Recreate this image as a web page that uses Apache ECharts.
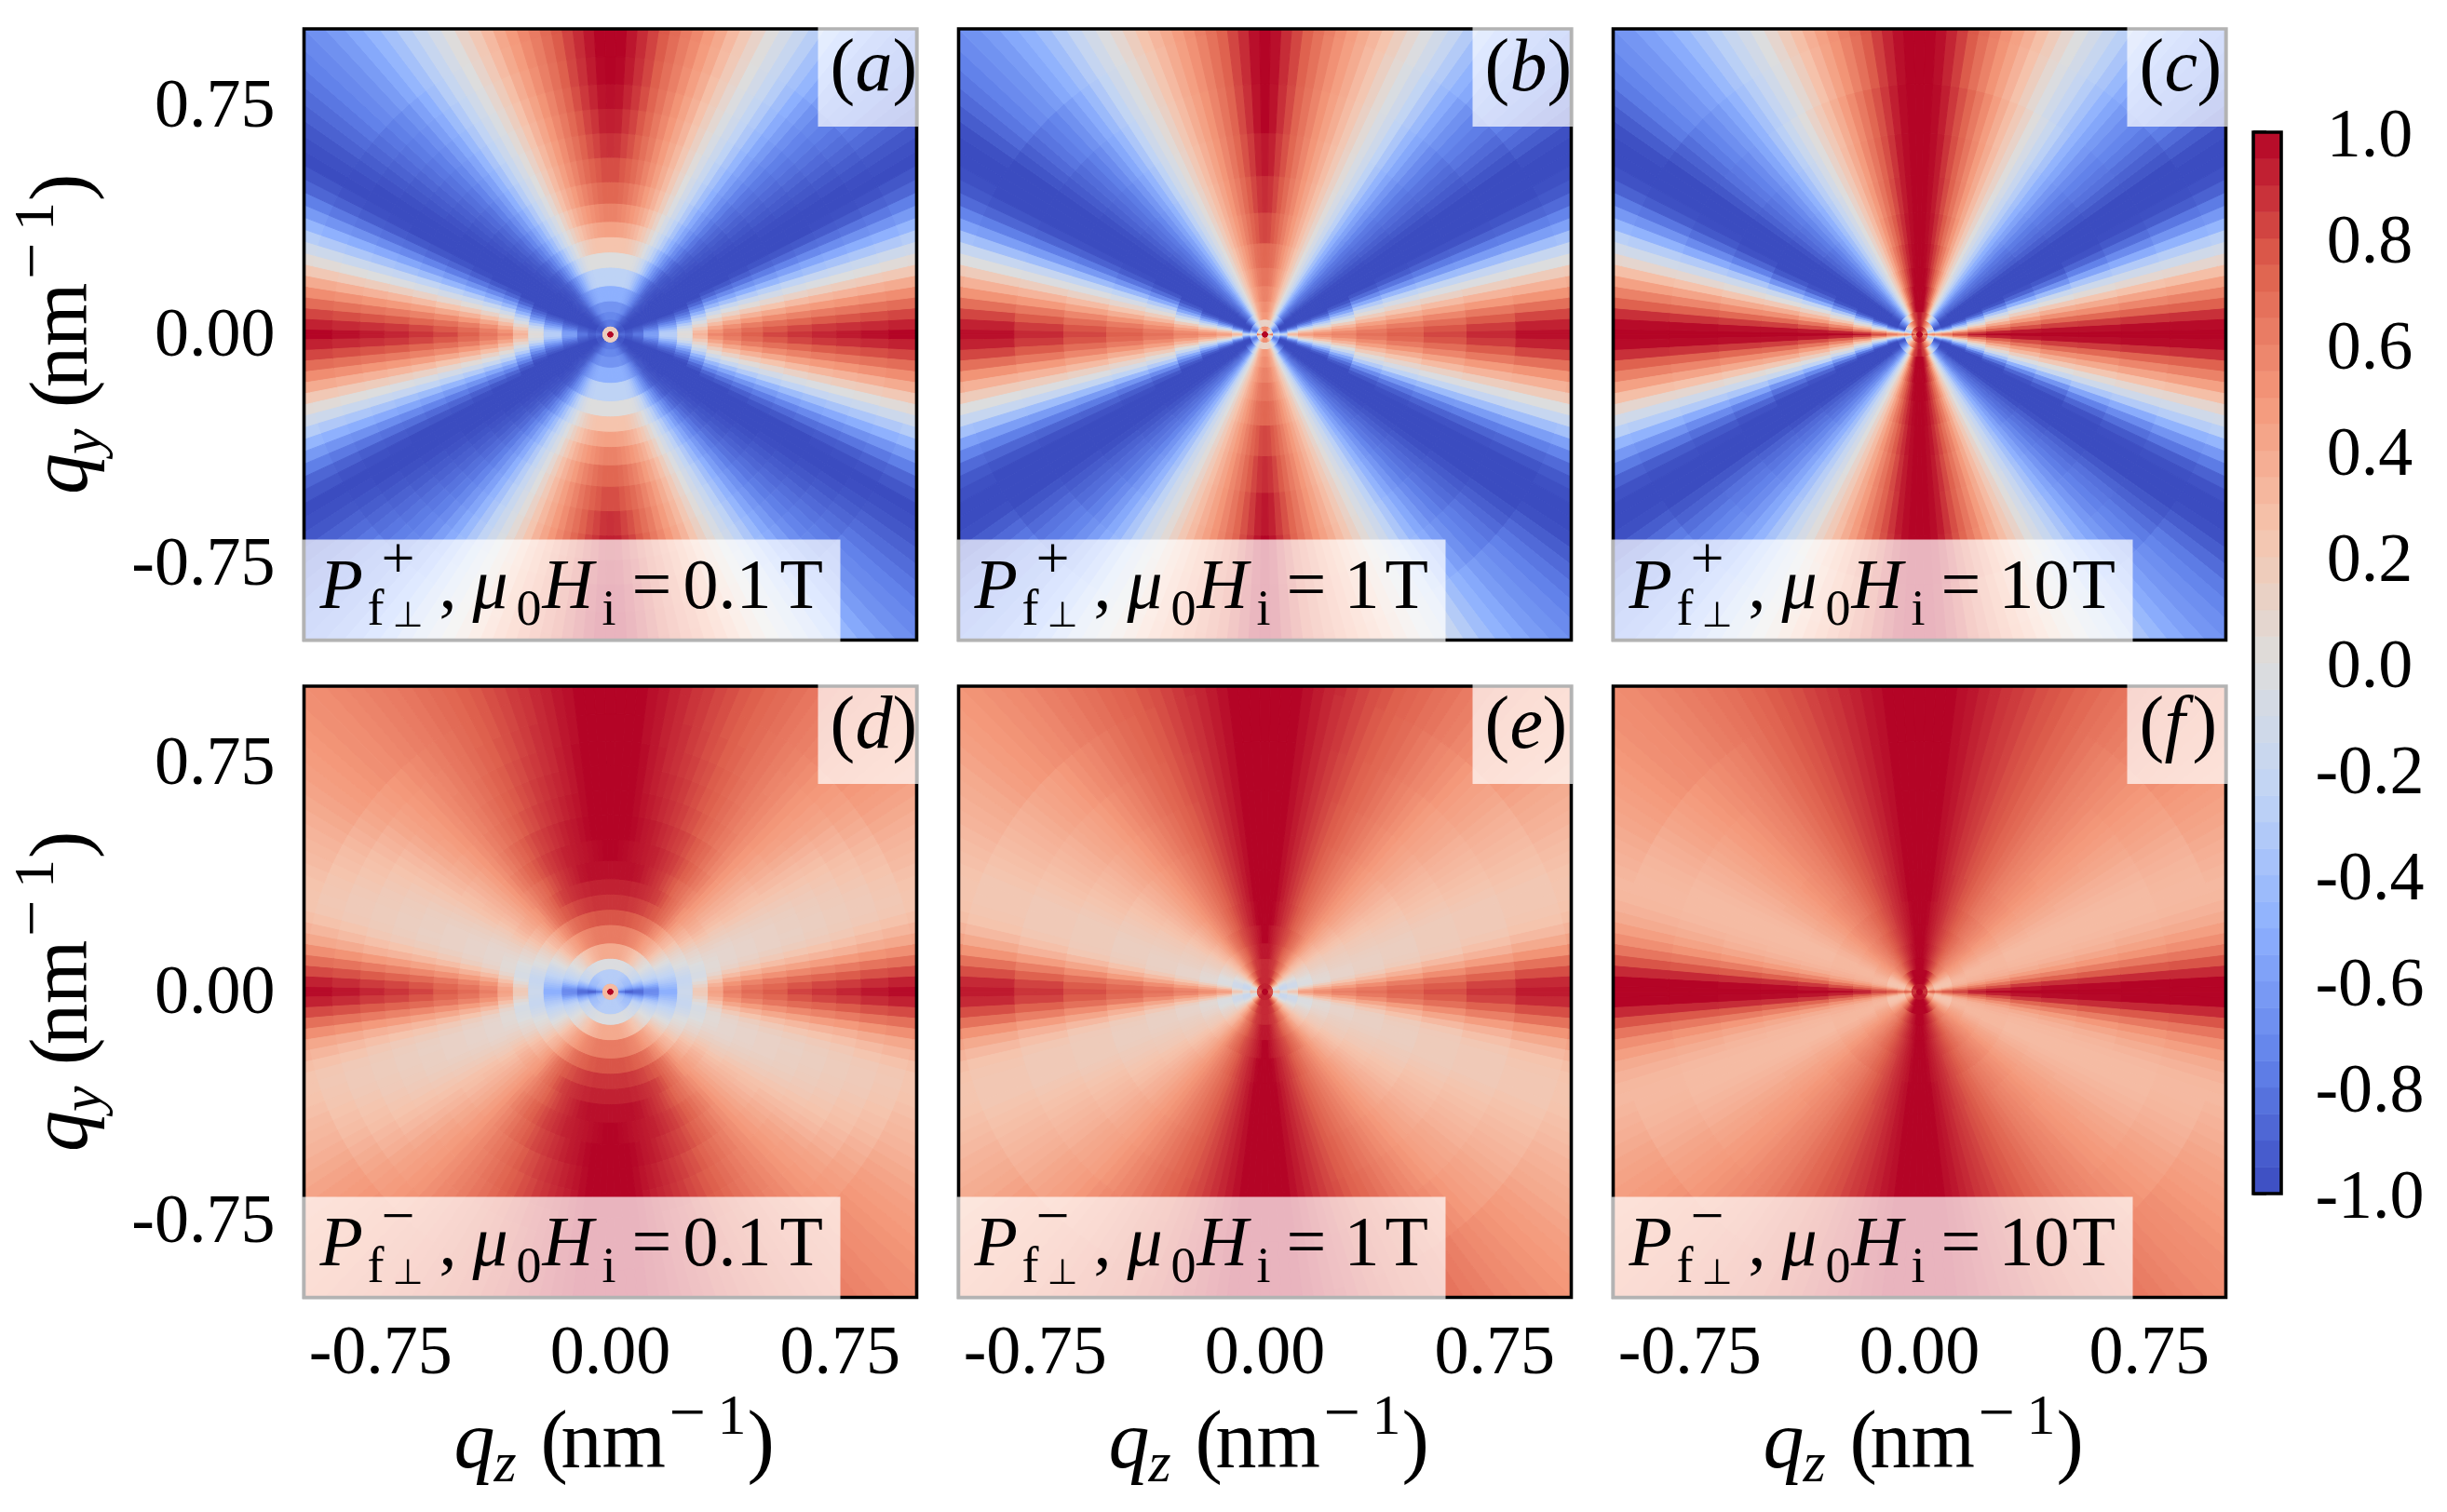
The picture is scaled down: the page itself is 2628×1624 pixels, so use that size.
<!DOCTYPE html>
<html><head><meta charset="utf-8">
<style>html,body{margin:0;padding:0;background:#fff}#c{width:2628px;height:1624px}</style>
<script src="https://cdn.jsdelivr.net/npm/echarts@6/dist/echarts.min.js"></script>
</head><body><div id="c"></div>
<script>
// Values, in percent of the colour scale, one quadrant
// (the picture is mirror-symmetric). Rows = radius bands, columns = ray angle bands (2 degree steps) from the qz axis.
const radiusFine=[0,.012,.028,.05,.075,.11,.16,.22,.27,.32,.37,.43,.5,.58,.66,.74,.82,.91,1,1.45];
const radiusCoarse=[0,.012,.028,.05,.075,.11,.16,.22,.3,.4,.52,.66,.82,1,1.45];
const angleEdges=[0,1,3,5,7,9,11,13,15,17,19,21,23,25,27,29,31,33,35,37,39,41,43,45,47,49,51,53,55,57,59,61,63,65,67,69,71,73,75,77,79,81,83,85,87,89,90];
const tickValues=[-0.75,0,0.75];
const colorbarLevels=[-1,-.95,-.9,-.85,-.8,-.75,-.7,-.65,-.6,-.55,-.5,-.45,-.4,-.35,-.3,-.25,-.2,-.15,-.1,-.05,0,.05,.1,.15,.2,.25,.3,.35,.4,.45,.5,.55,.6,.65,.7,.75,.8,.85,.9,.95,1];
const coolwarm=['#3b4cc0','#6282ea','#8db0fe','#c0d4f5','#dddddd','#f5c4ad','#f4987a','#de604d','#b40426'];

const plus01T=[
[100,100,100,100,100,100,100,100,100,100,100,100,100,100,100,100,100,100,100,100,100,100,100,100,100,100,100,100,100,100,100,100,100,100,100,100,100,100,100,100,100,100,100,100,100,100],
[15,15,15,15,15,15,15,15,15,15,15,15,15,15,15,15,15,15,15,15,15,15,15,15,15,15,15,15,15,15,15,15,15,15,15,15,15,15,15,15,15,15,15,15,15,15],
[-85,-85,-85,-85,-88,-90,-90,-91,-92,-94,-95,-95,-95,-95,-95,-95,-95,-95,-95,-95,-94,-93,-92,-91,-90,-90,-89,-88,-87,-86,-85,-84,-83,-82,-81,-80,-80,-79,-79,-78,-78,-78,-78,-78,-78,-78],
[-90,-90,-90,-92,-92,-95,-95,-96,-97,-99,-100,-100,-100,-100,-100,-100,-100,-99,-98,-97,-96,-95,-94,-93,-92,-90,-89,-88,-85,-83,-81,-79,-78,-76,-75,-75,-74,-73,-72,-72,-72,-72,-72,-72,-72,-72],
[-80,-80,-82,-85,-88,-90,-92,-94,-96,-98,-100,-100,-100,-100,-100,-100,-100,-100,-100,-99,-98,-97,-96,-94,-92,-89,-86,-83,-80,-77,-74,-72,-70,-69,-68,-66,-65,-65,-65,-65,-65,-65,-65,-65,-65,-65],
[-60,-60,-62,-68,-75,-80,-85,-90,-94,-97,-100,-100,-100,-100,-100,-100,-100,-100,-100,-99,-98,-97,-96,-94,-92,-88,-84,-79,-75,-70,-66,-62,-58,-56,-54,-52,-51,-50,-50,-50,-50,-50,-50,-50,-50,-50],
[-30,-30,-35,-45,-55,-65,-75,-84,-90,-95,-100,-100,-100,-100,-100,-100,-100,-100,-100,-100,-99,-98,-97,-95,-93,-90,-85,-79,-72,-66,-58,-52,-45,-39,-34,-30,-28,-27,-26,-26,-26,-26,-26,-26,-26,-26],
[3,1,-6,-18,-32,-46,-60,-72,-82,-90,-97,-100,-100,-100,-100,-100,-100,-100,-100,-99,-98,-97,-96,-94,-91,-86,-79,-72,-64,-55,-46,-37,-29,-20,-13,-7,-3,-1,0,0,0,0,0,0,0,0],
[35,30,20,8,-5,-18,-32,-48,-62,-75,-87,-95,-100,-100,-100,-100,-100,-100,-100,-99,-98,-96,-94,-91,-87,-81,-74,-66,-57,-48,-38,-29,-20,-11,-3,5,10,15,19,22,24,25,25,25,25,25],
[58,52,42,30,16,3,-12,-28,-45,-60,-75,-88,-96,-100,-100,-100,-100,-100,-100,-99,-97,-95,-92,-88,-83,-76,-69,-60,-50,-41,-31,-22,-12,-3,6,14,21,26,31,35,38,41,43,44,45,45],
[66,62,54,42,28,12,-3,-20,-38,-55,-70,-84,-94,-100,-100,-100,-100,-100,-100,-98,-96,-94,-90,-86,-80,-73,-65,-56,-47,-37,-27,-17,-8,2,12,21,29,36,41,46,50,53,56,58,60,60],
[75,70,62,50,36,20,3,-14,-32,-50,-66,-80,-91,-98,-100,-100,-100,-100,-99,-97,-95,-92,-88,-84,-78,-70,-62,-53,-43,-33,-23,-13,-3,7,17,27,35,42,48,54,59,63,67,70,72,72],
[82,77,68,56,41,25,8,-10,-28,-46,-62,-77,-88,-96,-100,-100,-100,-100,-98,-96,-93,-90,-86,-82,-76,-68,-60,-50,-40,-30,-20,-10,0,10,20,30,38,46,53,59,65,70,74,77,80,80],
[87,82,72,60,46,30,12,-6,-24,-42,-58,-74,-86,-95,-100,-100,-100,-99,-97,-94,-91,-88,-84,-80,-74,-66,-58,-48,-38,-28,-18,-8,2,12,22,32,40,48,55,62,68,74,79,83,87,88],
[91,86,76,63,49,33,15,-3,-21,-39,-55,-71,-84,-94,-100,-100,-100,-99,-96,-93,-90,-86,-82,-78,-72,-64,-56,-46,-36,-26,-16,-6,4,14,24,34,42,50,57,64,71,77,83,87,92,93],
[94,88,78,65,51,35,17,-1,-19,-37,-53,-69,-83,-93,-99,-100,-100,-98,-95,-92,-88,-84,-80,-76,-70,-62,-54,-44,-34,-24,-14,-4,6,16,26,36,44,52,59,66,73,80,86,91,96,97],
[97,90,80,67,53,37,19,1,-17,-35,-51,-67,-81,-92,-98,-100,-100,-97,-94,-90,-86,-82,-78,-74,-68,-60,-52,-42,-32,-22,-12,-2,8,18,28,38,46,54,61,68,75,82,88,94,99,100],
[100,92,82,69,55,39,21,3,-15,-33,-49,-65,-79,-90,-97,-100,-99,-96,-92,-88,-84,-80,-76,-72,-66,-58,-50,-40,-30,-20,-10,0,10,20,30,40,48,56,62,69,76,83,89,95,100,100],
[100,94,83,70,56,40,22,4,-13,-30,-46,-62,-76,-88,-95,-100,-98,-95,-90,-85,-80,-75,-71,-67,-61,-54,-46,-38,-29,-19,-9,1,11,21,31,41,49,57,63,70,77,84,90,95,100,100]];

const plus1T=[
[100,100,100,100,100,100,100,100,100,100,100,100,100,100,100,100,100,100,100,100,100,100,100,100,100,100,100,100,100,100,100,100,100,100,100,100,100,100,100,100,100,100,100,100,100,100],
[85,82,75,68,60,48,35,27,20,12,5,0,-5,-8,-10,-10,-10,-8,-7,-5,-2,2,5,10,15,18,22,25,28,31,34,37,40,43,46,48,50,52,53,55,55,55,55,55,55,55],
[-5,-8,-15,-22,-32,-42,-50,-56,-62,-68,-72,-75,-75,-74,-72,-70,-65,-62,-60,-55,-50,-46,-40,-36,-30,-26,-20,-16,-10,-7,-3,1,4,7,10,11,12,12,12,12,12,12,12,12,12,12],
[-15,-20,-30,-45,-60,-72,-82,-88,-93,-97,-100,-100,-100,-100,-100,-98,-95,-92,-88,-84,-78,-73,-68,-62,-55,-48,-40,-33,-25,-18,-10,-3,4,10,18,24,30,34,37,40,44,46,48,50,50,50],
[35,28,15,-5,-25,-45,-65,-78,-88,-95,-98,-100,-100,-100,-100,-100,-100,-99,-97,-94,-90,-86,-82,-78,-72,-65,-57,-48,-38,-27,-16,-8,0,8,15,21,28,35,39,42,46,49,52,53,54,55],
[48,42,30,15,-5,-25,-45,-63,-78,-90,-97,-100,-100,-100,-100,-100,-100,-100,-99,-96,-92,-88,-84,-80,-74,-66,-58,-49,-39,-28,-17,-9,0,9,16,23,30,37,42,46,50,54,56,58,60,60],
[56,50,38,24,5,-15,-32,-52,-70,-85,-95,-100,-100,-100,-100,-100,-100,-100,-99,-96,-92,-88,-84,-80,-74,-66,-58,-49,-39,-28,-17,-8,0,9,17,24,31,38,44,49,54,58,62,64,66,66],
[60,56,46,34,18,0,-18,-36,-55,-72,-85,-95,-100,-100,-100,-100,-100,-100,-99,-96,-92,-88,-84,-80,-74,-66,-58,-49,-39,-28,-17,-8,0,9,18,25,33,40,46,52,57,62,67,69,71,72],
[68,64,56,46,32,18,3,-13,-32,-52,-70,-85,-95,-100,-100,-100,-100,-100,-99,-96,-92,-88,-84,-80,-74,-66,-58,-49,-39,-28,-17,-8,1,10,19,27,35,42,49,55,61,67,73,77,81,82],
[75,71,63,52,38,24,9,-7,-26,-45,-65,-81,-92,-98,-100,-100,-100,-100,-98,-95,-91,-87,-83,-79,-73,-65,-57,-48,-38,-27,-16,-7,2,11,20,28,36,43,50,57,63,70,76,82,87,89],
[82,78,69,58,44,30,13,-3,-22,-42,-62,-78,-90,-97,-100,-100,-100,-100,-98,-94,-90,-86,-82,-78,-72,-64,-56,-47,-37,-26,-15,-6,3,12,21,29,37,44,51,58,65,72,79,85,92,95],
[90,85,76,64,49,34,16,-2,-21,-41,-61,-77,-89,-97,-100,-100,-100,-100,-97,-93,-89,-85,-81,-76,-70,-62,-54,-45,-35,-25,-14,-5,4,13,22,30,38,45,52,59,66,73,81,88,96,100],
[97,92,82,68,52,36,18,-1,-20,-40,-60,-76,-88,-96,-100,-100,-100,-100,-96,-91,-86,-81,-77,-73,-67,-60,-52,-43,-33,-23,-13,-4,5,14,23,31,39,46,53,60,67,74,82,89,97,100],
[100,94,84,70,54,38,20,0,-19,-38,-58,-74,-86,-94,-98,-100,-100,-98,-92,-86,-80,-75,-70,-66,-61,-54,-48,-40,-31,-21,-11,-2,7,16,25,33,40,47,54,61,68,75,83,90,98,100]];

const plus10T=[
[100,100,100,100,100,100,100,100,100,100,100,100,100,100,100,100,100,100,100,100,100,100,100,100,100,100,100,100,100,100,100,100,100,100,100,100,100,100,100,100,100,100,100,100,100,100],
[90,90,88,85,80,75,70,63,58,55,55,55,58,60,62,64,66,68,70,71,72,74,75,76,78,80,81,82,84,85,86,87,88,89,90,90,90,91,92,92,93,95,95,95,95,95],
[68,60,50,40,25,10,-10,-22,-30,-35,-28,-20,-15,-10,-5,2,5,8,12,15,20,25,30,33,37,42,45,48,52,55,58,62,65,68,71,74,77,80,82,84,85,88,89,90,92,92],
[58,52,42,25,5,-20,-42,-62,-78,-90,-95,-95,-93,-90,-86,-82,-78,-74,-70,-64,-58,-52,-46,-40,-33,-27,-20,-13,-5,3,12,22,32,44,55,66,74,80,83,85,86,87,90,93,95,95],
[70,60,45,20,-5,-30,-55,-72,-85,-95,-100,-100,-100,-100,-100,-100,-99,-97,-95,-91,-86,-82,-78,-72,-65,-58,-50,-40,-30,-20,-8,2,12,26,40,52,64,74,82,88,92,97,100,100,100,100],
[85,75,55,30,5,-15,-35,-55,-72,-88,-98,-100,-100,-100,-100,-100,-100,-100,-98,-92,-88,-84,-80,-74,-67,-58,-50,-40,-30,-20,-8,2,12,24,36,48,60,70,78,84,90,96,100,100,100,100],
[98,85,65,45,25,5,-15,-33,-55,-78,-92,-100,-100,-100,-100,-100,-100,-100,-98,-92,-88,-84,-80,-74,-67,-58,-50,-40,-30,-20,-8,2,12,22,33,45,56,66,74,81,87,93,98,100,100,100],
[100,92,75,58,40,22,5,-14,-36,-62,-82,-96,-100,-100,-100,-100,-100,-100,-98,-92,-88,-84,-80,-74,-67,-58,-50,-40,-30,-20,-10,0,10,20,31,42,53,63,71,79,85,91,96,99,100,100],
[100,95,80,65,48,32,15,-3,-25,-50,-72,-88,-97,-100,-100,-100,-100,-100,-98,-92,-88,-84,-80,-74,-67,-58,-50,-40,-30,-20,-10,0,10,20,30,41,51,60,68,76,83,89,95,98,100,100],
[100,97,84,70,54,38,21,1,-18,-42,-65,-83,-94,-100,-100,-100,-100,-100,-97,-91,-86,-82,-78,-72,-65,-57,-49,-39,-30,-20,-10,0,10,20,30,40,49,58,66,74,81,88,94,98,100,100],
[100,97,85,71,55,40,23,4,-15,-35,-56,-75,-88,-97,-100,-100,-100,-100,-96,-90,-85,-81,-77,-71,-64,-56,-48,-38,-29,-19,-9,1,11,20,30,39,48,57,65,73,80,87,94,98,100,100],
[100,98,87,73,58,43,26,7,-13,-32,-52,-70,-84,-94,-99,-100,-100,-100,-95,-89,-83,-79,-75,-70,-63,-55,-47,-37,-28,-18,-8,1,11,20,29,38,47,56,64,72,79,86,93,98,100,100],
[100,98,88,74,60,45,28,8,-12,-30,-48,-65,-80,-92,-98,-100,-100,-100,-95,-90,-84,-78,-73,-68,-62,-55,-47,-38,-30,-21,-12,-3,6,16,26,35,44,52,60,68,76,84,91,97,100,100],
[100,98,88,74,60,45,28,9,-10,-28,-46,-63,-78,-90,-97,-100,-100,-98,-92,-85,-78,-73,-68,-64,-58,-52,-44,-36,-28,-19,-10,-1,8,18,28,37,45,53,61,69,77,85,92,98,100,100]];

const minus01T=[
[100,100,100,100,100,100,100,100,100,100,100,100,100,100,100,100,100,100,100,100,100,100,100,100,100,100,100,100,100,100,100,100,100,100,100,100,100,100,100,100,100,100,100,100,100,100],
[30,30,30,30,30,30,30,30,30,30,30,30,30,30,30,30,30,30,30,30,30,30,30,30,30,30,30,30,30,30,30,30,30,30,30,30,30,30,30,30,30,30,30,30,30,30],
[-80,-80,-78,-72,-66,-60,-56,-52,-49,-46,-43,-41,-39,-38,-37,-36,-36,-35,-35,-34,-34,-34,-33,-33,-33,-32,-32,-32,-31,-31,-30,-30,-30,-30,-30,-30,-30,-30,-30,-30,-30,-30,-30,-30,-30,-30],
[-92,-90,-86,-80,-72,-65,-60,-56,-52,-49,-46,-44,-42,-41,-40,-40,-39,-39,-38,-38,-37,-36,-36,-35,-34,-33,-32,-32,-31,-31,-30,-30,-30,-30,-30,-30,-30,-30,-30,-30,-30,-30,-30,-30,-30,-30],
[-85,-84,-82,-76,-68,-60,-54,-48,-43,-38,-33,-29,-26,-24,-22,-20,-18,-16,-15,-14,-13,-12,-10,-9,-8,-7,-6,-5,-5,-4,-4,-3,-3,-2,-2,-2,-2,-2,-2,-2,-2,-2,-2,-2,-2,-2],
[-70,-70,-68,-62,-55,-48,-40,-35,-31,-27,-24,-21,-18,-15,-12,-9,-6,-3,0,2,4,6,8,11,14,17,20,22,24,26,28,30,32,33,35,36,37,38,39,39,40,40,40,40,40,40],
[-50,-50,-46,-42,-38,-34,-31,-28,-25,-21,-18,-14,-10,-6,-2,2,6,10,14,18,23,27,31,34,37,40,43,45,47,50,52,54,56,57,58,59,60,61,62,62,63,63,63,63,63,63],
[-15,-15,-16,-18,-19,-19,-17,-14,-11,-7,-3,-1,2,4,7,10,13,17,21,25,30,33,36,40,44,49,53,56,59,63,66,68,70,71,73,74,75,76,77,77,78,78,78,78,78,78],
[20,18,12,5,-2,-6,-6,-4,-3,-1,3,5,8,10,14,18,22,26,30,33,36,40,44,48,53,58,63,67,70,73,76,77,79,80,82,83,84,85,86,86,87,87,87,87,87,87],
[45,42,36,27,17,9,5,4,4,5,7,9,12,14,18,22,26,30,34,37,40,43,46,49,52,58,63,67,70,74,78,81,84,85,87,88,89,90,91,91,92,92,92,92,92,92],
[62,58,52,42,30,20,12,9,8,8,8,9,11,14,17,20,24,28,31,35,38,42,46,50,54,58,62,66,69,72,76,79,82,85,87,89,91,93,95,96,97,97,97,97,97,97],
[70,66,59,48,36,25,16,12,10,10,10,11,13,15,18,22,26,29,32,35,38,42,46,50,55,60,64,68,72,75,78,81,84,86,88,90,92,93,94,95,96,97,98,99,100,100],
[76,72,65,53,41,29,20,15,12,12,12,12,14,16,19,22,26,28,31,35,38,42,46,50,54,58,62,66,70,73,76,79,82,84,86,88,90,92,94,95,97,99,100,100,100,100],
[83,78,70,57,44,32,23,17,14,13,14,14,15,17,20,23,26,30,33,37,40,43,47,50,54,57,61,64,67,70,73,76,79,81,84,86,88,90,92,94,96,98,100,100,100,100],
[87,82,73,60,47,34,25,19,16,15,15,16,17,19,21,24,27,30,34,38,42,45,48,51,54,57,60,63,66,69,72,75,77,80,82,85,87,89,91,93,95,98,100,100,100,100],
[91,85,76,63,49,36,27,21,18,17,17,18,19,21,23,25,28,31,35,39,43,46,48,51,54,57,60,62,65,68,71,74,76,79,81,84,86,88,90,93,95,98,100,100,100,100],
[95,89,79,66,52,39,30,24,20,19,19,20,22,24,26,28,31,34,37,41,44,46,49,51,54,57,59,62,65,67,70,73,75,78,80,83,85,88,90,92,95,97,100,100,100,100],
[98,92,81,68,54,41,33,26,22,21,22,23,25,27,29,32,35,38,41,44,46,48,50,52,55,57,60,62,65,67,70,72,75,77,80,82,85,87,90,92,95,97,100,100,100,100],
[100,94,83,70,56,43,35,28,24,24,25,27,30,32,34,37,40,43,46,48,50,52,54,55,57,59,61,63,65,68,70,72,75,77,80,82,85,87,90,92,95,97,100,100,100,100]];

const minus1T=[
[100,100,100,100,100,100,100,100,100,100,100,100,100,100,100,100,100,100,100,100,100,100,100,100,100,100,100,100,100,100,100,100,100,100,100,100,100,100,100,100,100,100,100,100,100,100],
[88,88,86,84,82,80,80,80,80,80,80,80,81,82,83,84,85,85,86,87,88,88,89,90,90,90,91,92,92,92,92,92,92,92,92,92,92,92,92,92,92,92,92,92,92,92],
[30,28,25,20,14,8,2,-3,-6,-8,-6,-4,0,5,10,16,22,28,34,40,45,48,52,58,63,68,72,75,78,80,82,85,86,88,89,90,90,90,90,90,90,90,90,90,90,90],
[8,5,0,-6,-12,-16,-18,-18,-18,-16,-13,-11,-8,-3,1,6,10,16,22,28,33,38,42,47,52,56,60,64,68,71,73,76,78,82,84,85,86,87,88,88,89,90,90,90,90,90],
[25,20,12,4,-5,-10,-12,-12,-12,-10,-8,-5,-2,1,4,8,11,15,19,24,28,32,36,40,45,49,53,58,62,65,68,71,74,77,80,82,84,86,86,87,88,88,90,90,90,90],
[50,44,35,22,10,2,-2,-2,-2,-1,1,3,6,8,10,12,14,17,20,24,27,30,33,37,42,46,50,54,58,62,65,68,71,74,77,80,82,84,86,88,90,92,94,95,95,95],
[57,52,42,30,18,8,5,5,6,7,9,10,12,14,16,17,19,21,24,27,30,33,36,40,44,48,52,56,60,64,67,70,73,76,79,81,83,85,87,89,91,93,95,97,100,100],
[62,58,48,36,24,14,10,10,10,11,13,14,15,16,18,19,21,24,26,29,32,35,38,41,45,48,52,55,58,61,64,68,71,74,77,80,83,86,88,91,93,96,99,100,100,100],
[68,64,55,42,30,20,14,13,13,13,14,15,17,18,20,21,24,26,28,31,34,37,40,43,46,49,52,55,58,61,64,67,70,73,76,79,82,85,88,91,94,97,100,100,100,100],
[74,70,62,48,36,26,18,16,15,15,15,16,18,19,21,23,25,27,29,32,35,37,40,43,46,49,52,55,58,61,64,67,70,73,76,79,82,85,88,91,94,97,100,100,100,100],
[80,76,68,55,42,31,22,19,18,18,18,18,20,22,24,26,28,30,32,34,37,39,42,44,47,50,53,56,59,62,65,68,71,74,76,79,82,85,88,91,94,97,100,100,100,100],
[87,83,74,61,47,35,27,22,20,20,20,20,22,24,26,28,30,32,34,36,39,41,43,45,48,51,54,57,60,63,66,69,72,74,77,80,82,85,88,91,94,97,100,100,100,100],
[94,90,80,67,52,40,31,25,23,22,22,22,24,26,28,30,32,34,36,38,41,43,45,47,50,53,56,58,61,64,67,70,72,75,77,80,83,86,88,91,94,97,100,100,100,100],
[100,93,83,70,55,43,34,28,25,24,24,25,27,29,31,34,36,38,40,43,46,48,50,52,54,56,58,61,63,66,68,71,73,75,78,80,83,86,89,91,94,97,100,100,100,100]];

const minus10T=[
[100,100,100,100,100,100,100,100,100,100,100,100,100,100,100,100,100,100,100,100,100,100,100,100,100,100,100,100,100,100,100,100,100,100,100,100,100,100,100,100,100,100,100,100,100,100],
[90,90,90,90,88,88,86,85,85,85,85,85,86,87,88,89,90,90,91,92,93,94,94,95,95,95,96,96,96,96,96,96,96,96,96,96,96,96,96,96,96,96,96,96,96,96],
[78,76,72,66,58,50,44,40,37,36,36,38,40,42,44,47,50,53,56,60,64,67,71,75,79,82,85,88,90,92,95,96,97,98,99,100,100,100,100,100,100,100,100,100,100,100],
[75,70,60,48,38,30,26,25,24,24,25,26,28,30,33,36,40,43,47,50,54,57,61,65,69,72,75,78,82,85,87,90,92,94,96,98,100,100,100,100,100,100,100,100,100,100],
[80,76,66,54,42,32,26,25,24,24,25,26,27,29,32,35,39,42,45,48,51,54,57,60,62,64,66,68,71,74,77,79,81,83,85,87,89,91,93,95,96,98,100,100,100,100],
[85,80,70,58,46,38,34,33,32,32,33,34,36,38,40,42,44,46,48,50,52,54,56,58,60,62,64,67,69,72,75,77,79,81,83,85,87,89,91,93,95,97,98,100,100,100],
[95,88,75,62,50,42,36,34,33,32,32,32,33,35,37,39,42,44,47,49,52,54,56,58,60,62,64,67,69,71,74,76,78,80,82,84,86,88,90,92,94,96,98,100,100,100],
[100,92,80,66,53,43,37,35,33,32,32,32,32,34,35,38,41,43,45,48,50,53,55,57,59,61,63,65,67,70,72,75,77,79,81,83,86,88,90,92,94,96,99,100,100,100],
[100,96,86,72,58,46,38,34,32,31,30,30,30,32,34,36,39,41,43,46,48,51,53,55,57,59,61,63,65,68,71,73,76,78,81,83,85,88,90,92,95,97,100,100,100,100],
[100,98,88,74,60,48,40,35,32,31,30,30,30,31,33,35,38,40,43,45,47,50,52,54,56,58,60,62,65,68,71,73,76,78,80,83,85,87,90,92,95,97,100,100,100,100],
[100,99,89,76,62,50,42,36,33,31,30,30,30,31,33,35,37,40,42,45,47,49,51,53,56,58,60,62,65,68,71,73,76,78,80,83,85,87,90,92,95,97,100,100,100,100],
[100,100,90,77,64,52,44,38,34,31,30,30,30,31,33,35,37,40,42,44,47,49,51,53,56,58,60,62,65,68,71,73,76,78,80,83,85,87,90,92,95,97,100,100,100,100],
[100,100,90,78,65,54,46,39,35,32,31,31,32,33,35,37,39,42,44,46,48,50,52,54,56,58,60,62,65,68,71,73,76,78,80,83,85,87,90,92,95,97,100,100,100,100],
[100,100,90,78,65,54,46,39,35,32,31,33,35,37,39,42,44,46,48,50,52,54,55,56,58,60,62,64,66,68,71,73,76,78,80,83,85,87,90,92,95,97,100,100,100,100]];

const panelValues=[plus01T,plus1T,plus10T,minus01T,minus1T,minus10T];
const panelRadii=[radiusFine,radiusCoarse,radiusCoarse,radiusFine,radiusCoarse,radiusCoarse];
const panelLetters=['a','b','c','d','e','f'];
const fieldTexts=['0.1','1','10'];

// layout
const SERIF='"Liberation Serif"';
const colLeft=[326.5,1029.5,1732.5], rowTop=[31,737], W=658, H=656.5;
const TICKFONT=74, TITLEFONT=88;

const wedge=radii=>function(params,api){
  const ri=api.value(0),ai=api.value(1),c=api.visual('color');
  const r0=radii[ri],r1=radii[ri+1];
  const t0=angleEdges[ai]*Math.PI/180,t1=angleEdges[ai+1]*Math.PI/180;
  const kids=[];
  for(const sx of [1,-1]) for(const sy of [1,-1]){
    const pts=[];
    for(let k=0;k<=1;k++){const t=t0+(t1-t0)*k;pts.push(api.coord([sx*r0*Math.cos(t),sy*r0*Math.sin(t)]));}
    for(let k=1;k>=0;k--){const t=t0+(t1-t0)*k;pts.push(api.coord([sx*r1*Math.cos(t),sy*r1*Math.sin(t)]));}
    kids.push({type:'polygon',shape:{points:pts},style:{fill:c,stroke:c,lineWidth:1}});
  }
  return {type:'group',children:kids};
};
function barCell(params,api){
  const a=api.coord([0,api.value(0)]),b=api.coord([1,api.value(1)]);
  const c=api.visual('color');
  return {type:'rect',shape:{x:a[0],y:b[1],width:b[0]-a[0],height:a[1]-b[1]},style:{fill:c,stroke:c,lineWidth:.6}};
}

const grids=[],xAxes=[],yAxes=[],series=[],gfx=[];
function run(text,x,base,size,italic,family,z){
  return {type:'text',z:z||70,style:{text:text,x:x,y:base-.3375*size,
    font:(italic?'italic ':'')+size+'px '+(family||SERIF),fill:'#000',textAlign:'left',textVerticalAlign:'middle'}};
}
function titleRuns(subLetter){
  return [run('q',0,0,TITLEFONT,true),run(subLetter,43,13,62,true),run('(',93,0,TITLEFONT),run('nm',115,0,TITLEFONT),
    run('\u2212',231,-38,70),run('1',283,-38,62),run(')',315,0,TITLEFONT)];
}
panelValues.forEach((rows,p)=>{
  const col=p%3,row=p<3?0:1,L=colLeft[col],T=rowTop[row],R=L+W,B=T+H;
  grids.push({left:L,top:T,width:W,height:H,show:false});
  xAxes.push({type:'value',gridIndex:p,min:-1,max:1,show:row===1,splitLine:{show:false},axisLine:{show:false},
    axisTick:{show:true,length:13,lineStyle:{color:'#000',width:3.5},customValues:tickValues},
    axisLabel:{show:true,margin:25,fontSize:TICKFONT,fontFamily:SERIF,color:'#000',customValues:tickValues,formatter:v=>v.toFixed(2)}});
  yAxes.push({type:'value',gridIndex:p,min:-1,max:1,show:col===0,splitLine:{show:false},axisLine:{show:false},
    axisTick:{show:true,length:13,lineStyle:{color:'#000',width:3.5},customValues:tickValues},
    axisLabel:{show:true,margin:31,color:'#000',customValues:tickValues,formatter:v=>'{v|'+v.toFixed(2)+'}',
      rich:{v:{fontSize:TICKFONT,fontFamily:SERIF,color:'#000',padding:[7,0,0,0]}}}});
  const data=[];
  const radii=panelRadii[p];
  rows.forEach((vals,ri)=>{
    for(let ai=0;ai<angleEdges.length-1;ai++){
      const v=ai<vals.length?vals[ai]:vals[vals.length-1];
      data.push([ri,ai,v/100]);
    }
  });
  series.push({type:'custom',xAxisIndex:p,yAxisIndex:p,coordinateSystem:'cartesian2d',renderItem:wedge(radii),data:data,
    clip:true,silent:true,progressive:0,encode:{x:0,y:1},dimensions:['r','a','v']});

  // frame
  gfx.push({type:'rect',z:50,shape:{x:L,y:T,width:W,height:H},style:{fill:'none',stroke:'#000',lineWidth:3.6}});
  // letter box
  const boxW=106;
  gfx.push({type:'rect',z:60,shape:{x:R-boxW,y:T-2,width:boxW+2,height:107},style:{fill:'rgba(255,255,255,.7)'}});
  const letter=panelLetters[p],fs=80,lw={a:40,b:40,c:35,d:40,e:35,f:30}[letter],lx=R-boxW+13,ly=T+72;
  gfx.push(run('(',lx,ly,fs),run(letter,lx+27,ly,fs,true),run(')',lx+27+lw,ly,fs));
  // caption box
  const capW=[576,523,558][col];
  gfx.push({type:'rect',z:60,shape:{x:L-2,y:B-108,width:capW+2,height:110},style:{fill:'rgba(255,255,255,.7)'}});
  const base=B-29;
  const tx={value:[407,414,414][col],t:[511,458,493][col]};
  gfx.push(run('P',L+17,base,76,true),run(row===0?'+':'\u2212',L+83,base-33,64),
    run('f',L+68,base+17,54),run('\u22a5',L+95,base+17,38,false,'"DejaVu Sans"'),
    run(',',L+145,base,76),run('\u03bc',L+181,base,76,true),run('0',L+228,base+17,54),
    run('H',L+256,base,76,true),run('i',L+320,base+17,54),run('=',L+352,base,76),
    run(fieldTexts[col],L+tx.value,base,76),run('T',L+tx.t,base,76));
  // axis titles
  if(row===1) gfx.push({type:'group',x:L+W/2-168,y:1583,children:titleRuns('z')});
  if(col===0) gfx.push({type:'group',x:100,y:T+500,rotation:Math.PI/2,children:titleRuns('y')});
});

// colour bar
const cb=panelValues.length;
grids.push({left:2420,top:142,width:30,height:1140,show:false});
xAxes.push({type:'value',gridIndex:cb,min:0,max:1,show:false});
yAxes.push({type:'value',gridIndex:cb,min:-1,max:1,interval:.2,position:'right',splitLine:{show:false},axisLine:{show:false},
  axisTick:{show:true,length:14,lineStyle:{color:'#000',width:3.5}},
  axisLabel:{margin:95,align:'center',color:'#000',formatter:v=>'{v|'+v.toFixed(1)+'}',showMinLabel:true,showMaxLabel:true,
    rich:{v:{fontSize:TICKFONT,fontFamily:SERIF,color:'#000',padding:[14,0,0,0]}}}});
const cbData=[];
for(let i=0;i+1<colorbarLevels.length;i++) cbData.push([colorbarLevels[i],colorbarLevels[i+1],(colorbarLevels[i]+colorbarLevels[i+1])/2]);
series.push({type:'custom',xAxisIndex:cb,yAxisIndex:cb,coordinateSystem:'cartesian2d',renderItem:barCell,data:cbData,silent:true,progressive:0,encode:{y:[0,1]},dimensions:['lo','hi','v']});
gfx.push({type:'rect',z:50,shape:{x:2420,y:142,width:30,height:1140},style:{fill:'none',stroke:'#000',lineWidth:3.6}});

const chart=echarts.init(document.getElementById('c'),null,{renderer:'canvas',width:2628,height:1624});
chart.setOption({animation:false,backgroundColor:'#fff',grid:grids,xAxis:xAxes,yAxis:yAxes,
  visualMap:{show:false,type:'continuous',min:-1,max:1,dimension:2,seriesIndex:series.map((s,i)=>i),inRange:{color:coolwarm}},
  series:series,graphic:{elements:gfx}});
</script></body></html>
